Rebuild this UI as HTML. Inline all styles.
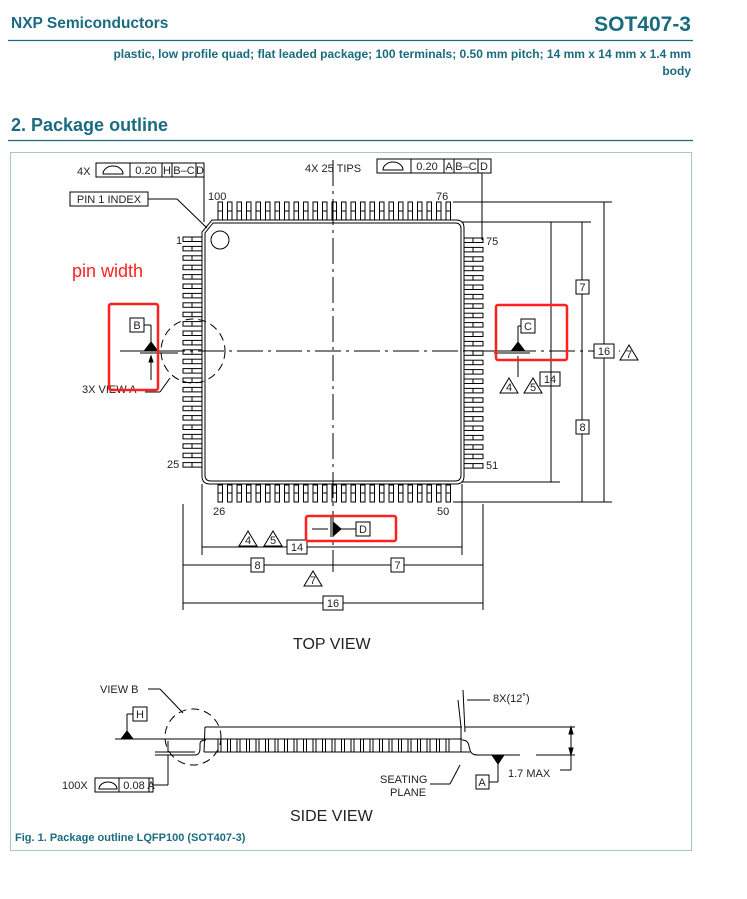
<!DOCTYPE html>
<html><head><meta charset="utf-8"><style>
body{margin:0;background:#fff;width:747px;height:894px;overflow:hidden;font-family:"Liberation Sans",sans-serif}
</style></head><body>
<svg width="747" height="894" xmlns="http://www.w3.org/2000/svg" font-family="Liberation Sans, sans-serif">
<g fill="#1b6b80" font-weight="bold">
<text x="11" y="28" font-size="15.5">NXP Semiconductors</text>
<text x="691" y="31" font-size="21" text-anchor="end">SOT407-3</text>
<text x="691" y="58" font-size="12" text-anchor="end">plastic, low profile quad; flat leaded package; 100 terminals; 0.50 mm pitch; 14 mm x 14 mm x 1.4 mm</text>
<text x="691" y="75" font-size="12" text-anchor="end">body</text>
<text x="11" y="131" font-size="18">2.  Package outline</text>
<text x="15" y="841" font-size="11">Fig. 1.    Package outline LQFP100 (SOT407-3)</text>
</g>
<line x1="8" y1="40.5" x2="693" y2="40.5" stroke="#1b6b80" stroke-width="1.2"/>
<line x1="8" y1="140.5" x2="693" y2="140.5" stroke="#1b6b80" stroke-width="1.2"/>
<rect x="10.5" y="152.5" width="681" height="698" fill="none" stroke="#a8c4cc"/>
<g id="draw" stroke="#000" stroke-width="1" fill="none"></g>
<g font-size="11" fill="#222">
<text x="77" y="175">4X</text>
<text x="305" y="172">4X  25  TIPS</text>
<text x="208" y="200">100</text><text x="436" y="200">76</text>
<text x="176" y="244">1</text><text x="486" y="245">75</text>
<text x="167" y="468">25</text><text x="486" y="469">51</text>
<text x="213" y="515">26</text><text x="437" y="515">50</text>
<text x="82" y="393">3X  VIEW  A</text>
<text x="293" y="649" font-size="16">TOP   VIEW</text>
<text x="290" y="821" font-size="16">SIDE   VIEW</text>
<text x="100" y="693">VIEW  B</text>
<text x="493" y="702">8X(12˚)</text>
<text x="380" y="783">SEATING</text><text x="390" y="796">PLANE</text>
<text x="508" y="777">1.7  MAX</text>
<text x="62" y="789">100X</text>
</g>
<text x="72" y="277" font-size="18" fill="#ff2020" font-family="Liberation Sans, sans-serif">pin width</text>
<g fill="none" stroke="#ff2020" stroke-width="2.5">
<rect x="109" y="304" width="49" height="86" rx="2"/>
<rect x="496" y="305" width="71" height="55" rx="2"/>
<rect x="306" y="516" width="90" height="25" rx="2"/>
</g>
<script>
const g=document.getElementById('draw');const ns='http://www.w3.org/2000/svg';
function el(t,a){const e=document.createElementNS(ns,t);for(const k in a)e.setAttribute(k,a[k]);g.appendChild(e);return e;}
function L(x1,y1,x2,y2,extra){return el('line',Object.assign({x1,y1,x2,y2},extra||{}));}
function R(x,y,w,h,extra){return el('rect',Object.assign({x,y,width:w,height:h},extra||{}));}
function T(x,y,s,sz,anch){const e=el('text',{x,y,'font-size':sz||11,fill:'#222',stroke:'none','text-anchor':anch||'middle'});e.textContent=s;return e;}
function tri(x,y,s){el('polygon',{points:`${x},${y-15} ${x-9},${y} ${x+9},${y}`});T(x,y-2,s,11);}
function box(x,y,w,s){R(x,y,w,14,{fill:'#fff'});T(x+w/2,y+11,s,11);}
// body
el('path',{d:'M212,220 L456,220 Q464,220 464,228 L464,476 Q464,484 456,484 L210,484 Q202,484 202,476 L202,232 Z'});
el('path',{d:'M213,223 L455,223 Q461,223 461,229 L461,475 Q461,481 455,481 L211,481 Q205,481 205,475 L205,233 Z'});
el('circle',{cx:220,cy:240,r:9});
// pins
for(let i=0;i<25;i++){const x=218+i*9.5;
 R(x,202,4.5,18);L(x,211,x+4.5,211);
 R(x,485,4.5,17);L(x,493,x+4.5,493);}
for(let i=0;i<25;i++){const y=237+i*9.4;
 R(183,y,19,4.5);L(192,y,192,y+4.5);
 R(464,y+1,19,4.5);L(473,y+1,473,y+5.5);}
// center lines
L(333,160,333,572,{'stroke-dasharray':'26,5,3,5'});
L(120,351,620,351,{'stroke-dasharray':'26,5,3,5'});
// circles view A
el('circle',{cx:193,cy:351,r:32,'stroke-dasharray':'8,5'});
el('circle',{cx:193,cy:737,r:28,'stroke-dasharray':'8,5'});
// top FCF frames
R(96,163,108,14,{fill:'#fff'});
[130,162,172,196].forEach(x=>L(x,163,x,177));
el('path',{d:'M103,174 a10,8 0 0 1 20,0 z'});T(146,174,'0.20',11);T(167,174,'H',11);T(184,174,'B–C',11);T(200,174,'D',11);
L(204,177,204,222);
R(377,159,114,14,{fill:'#fff'});
[411,444,454,478].forEach(x=>L(x,159,x,173));
el('path',{d:'M383,170 a10,8 0 0 1 20,0 z'});T(427,170,'0.20',11);T(449,170,'A',11);T(466,170,'B–C',11);T(484,170,'D',11);
L(482,173,482,240);
// pin 1 index
R(70,192,78,14,{fill:'#fff'});T(109,203,'PIN  1  INDEX',11);
L(148,199,177,199);L(177,199,207,228);
// datum B
R(130,318,14,14,{fill:'#fff'});T(137,329,'B',11);
L(144,325,151,325);L(151,325,151,342);
el('polygon',{points:'151,342 145,350 157,350',fill:'#000'});
L(140,351,178,351);L(140,353,178,353);
L(151,357,151,380);el('polygon',{points:'151,356 149,362 153,362',fill:'#000'});
L(145,392,160,392);L(160,392,170,378);
// datum C
R(521,319,14,14,{fill:'#fff'});T(528,330,'C',11);
L(521,326,518,326);L(518,326,518,343);
el('polygon',{points:'518,342 512,350 524,350',fill:'#000'});
L(494,351,530,351);L(494,353,530,353);L(518,356,518,377);
tri(509,393,'4');tri(533,393,'5');box(540,372,20,'14');
// right dims
L(453,202,612,202);L(462,222,591,222);L(462,482,560,482);L(453,502,612,502);
L(551,222,551,482);L(582,222,582,502);L(604,202,604,502);
box(576,280,13,'7');box(576,420,13,'8');box(594,344,20,'16');tri(629,360,'7');
// bottom dims
L(202,484,202,555);L(462,484,462,555);L(183,504,183,610);L(483,504,483,610);
L(202,547,462,547);L(183,565,483,565);L(183,603,483,603);
tri(248,546,'4');tri(273,546,'5');box(287,540,20,'14');
box(251,558,13,'8');box(391,558,13,'7');tri(313,586,'7');box(323,596,20,'16');
// datum D
L(312,529,328,529);L(331,515,331,537);el('polygon',{points:'333,522 341,529 333,536',fill:'#000'});
L(341,529,356,529);R(356,522,14,14,{fill:'#fff'});T(363,533,'D',11);
// side view
L(205,727,462,727);L(115,739,205,739);L(204,739,462,739);L(204,752,470,752);
L(155,752,195,752);L(155,755,190,755);L(485,755,520,755);
L(205,727,204,752);L(461,727,461,752);
for(let i=0;i<25;i++){const x=218+i*9.5;R(x,739,3,13);}
el('path',{d:'M190,755 L195,755 Q200,755 200,748 L200,744 Q200,740 206,740'});
el('path',{d:'M462,740 Q468,740 469,746 L470,750 Q471,755 478,755 L485,755'});
L(465,727,575,727);L(536,755,575,755);L(571,727,571,770);L(571,770,560,770);
el('polygon',{points:'571,727 569,734 573,734',fill:'#000'});el('polygon',{points:'571,755 569,748 573,748',fill:'#000'});
el('polygon',{points:'492,755 504,755 498,764',fill:'#000'});L(498,764,498,782);L(498,782,489,782);
R(476,775,13,14,{fill:'#fff'});T(482,786,'A',11);
L(463,690,465,732);L(458,700,461,727);L(467,700,490,700);
L(430,784,450,784);L(450,784,460,765);
// H datum
R(133,707,14,14,{fill:'#fff'});T(140,718,'H',11);L(133,714,127,714);L(127,714,127,732);
el('polygon',{points:'127,731 121,739 133,739',fill:'#000'});
L(148,689,160,689);L(160,689,183,713);
// flatness
R(95,778,58,14,{fill:'#fff'});L(119,778,119,792);L(149,778,149,792);
el('path',{d:'M99,789 a9,7 0 0 1 18,0 z'});T(134,789,'0.08',11);T(151,789,'A',11);
L(153,785,168,785);L(168,785,168,755);L(168,752,168,741);
</script>
</svg>
</body></html>
